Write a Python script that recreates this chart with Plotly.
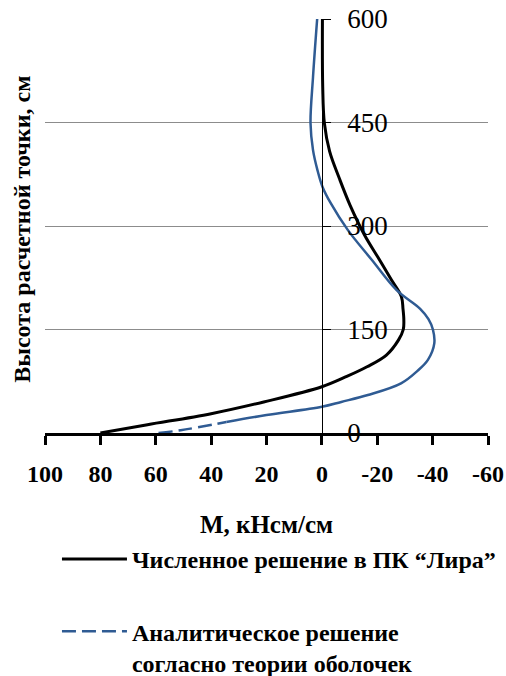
import plotly.graph_objects as go

# ---- data ----
black_h = [0, 12, 28, 45, 67, 82, 96, 113, 135, 150, 164, 180, 198, 222, 255, 287, 330, 368, 408, 449, 502, 600]
black_m = [80, 63, 40, 21, 0, -9, -16.3, -23.3, -27.7, -29.4, -29.6, -29.3, -28.7, -25.1, -20.2, -15.4, -10.2, -6.4, -2.8, -0.9, -0.3, -0.2]

blue_h = [0, 4, 16, 26, 38, 45, 55, 72, 90, 106, 130, 150, 165, 180, 207, 251, 294, 333, 357, 381, 410, 449, 516, 600]
blue_m = [59, 51, 34.5, 20, 0, -7, -16.6, -28.6, -34.5, -38.3, -40.6, -40.1, -38.5, -35.5, -27, -18, -9.4, -3.2, -0.2, 1.6, 3.2, 4.1, 3.2, 1.7]
blue_dashed_until = 16  # lower part of the analytical curve is drawn dashed

x_ticks = [100, 80, 60, 40, 20, 0, -20, -40, -60]
x_tick_labels = ["100", "80", "60", "40", "20", "0", "-20", "-40", "-60"]
y_ticks = [0, 150, 300, 450, 600]
y_tick_labels = ["0", "150", "300", "450", "600"]

name_black = "Численное решение в ПК \u201cЛира\u201d"
name_blue = "Аналитическое решение<br>согласно теории оболочек"
x_title = "М, кНсм/см"
y_title = "Высота расчетной точки, см"

BLUE = "#2F5B93"
FONT = "Liberation Serif, Times New Roman, serif"

i_split = blue_h.index(blue_dashed_until)

fig = go.Figure()
fig.add_trace(go.Scatter(x=black_m, y=black_h, mode="lines", name=name_black,
                         line=dict(color="black", width=3, shape="spline"),
                         legendgroup="a"))
fig.add_trace(go.Scatter(x=blue_m[:i_split + 1], y=blue_h[:i_split + 1], mode="lines",
                         name=name_blue, legendgroup="b",
                         line=dict(color=BLUE, width=2.5, dash="14px,6px", shape="spline")))
fig.add_trace(go.Scatter(x=blue_m[i_split:], y=blue_h[i_split:], mode="lines",
                         name=name_blue, legendgroup="b", showlegend=False,
                         line=dict(color=BLUE, width=2.5, shape="spline")))

fig.update_layout(
    width=506, height=676,
    margin=dict(l=45, r=18, t=19, b=243, autoexpand=False),
    paper_bgcolor="white", plot_bgcolor="white",
    font=dict(family=FONT, color="black"),
    xaxis=dict(range=[100, -60], domain=[0, 1], tickvals=x_ticks, ticktext=x_tick_labels,
               showgrid=False, zeroline=False, showline=True, linewidth=3, linecolor="black",
               ticks="outside", ticklen=9, tickwidth=3, tickcolor="black", tickangle=0,
               tickfont=dict(size=24, weight="bold", family=FONT), ticklabelstandoff=8,
               title=dict(text=x_title, font=dict(size=25, weight="bold", family=FONT), standoff=30),
               automargin=False),
    yaxis=dict(range=[0, 600], tickvals=y_ticks, ticktext=y_tick_labels,
               anchor="free", position=0.625, side="right",
               showgrid=True, gridcolor="#8c8c8c", gridwidth=1, zeroline=False,
               showline=True, linewidth=1, linecolor="black",
               ticks="outside", ticklen=8, tickwidth=1, tickcolor="black",
               tickfont=dict(size=27, family=FONT), ticklabelstandoff=11,
               automargin=False),
    legend=dict(x=0.027, y=-0.2512, xanchor="left", yanchor="top",
                font=dict(size=24, weight="bold", family=FONT),
                traceorder="grouped", tracegroupgap=38, valign="top",
                itemwidth=65, bgcolor="rgba(0,0,0,0)"),
    showlegend=True,
    annotations=[dict(text=y_title, xref="paper", yref="paper", x=-0.052, y=0.493,
                      xanchor="center", yanchor="middle", textangle=-90, showarrow=False,
                      font=dict(size=24, weight="bold", family=FONT))],
)

fig.write_html("out.html", config={"displayModeBar": False},
               post_script="document.body.style.margin='0px';")
